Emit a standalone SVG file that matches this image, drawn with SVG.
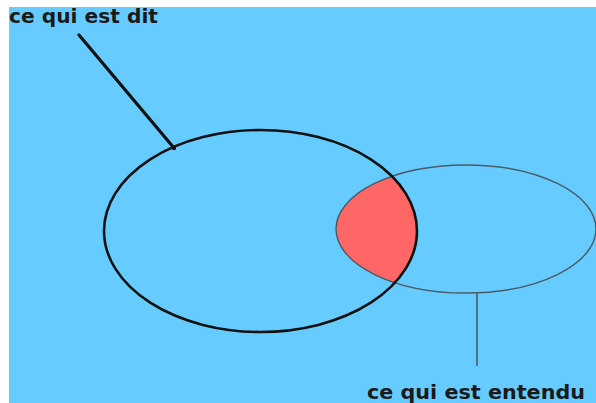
<svg xmlns="http://www.w3.org/2000/svg" width="596" height="403" viewBox="0 0 596 403">
<style>
.lbl{font-family:"DejaVu Sans","Liberation Sans",sans-serif;font-weight:bold;font-size:19px;fill:#1a1a1a}
.dit{fill:none;stroke:#111;stroke-width:2.6}
.ent{fill:none;stroke:#4a5a66;stroke-width:1.4}
</style>
<defs>
<clipPath id="c1"><ellipse cx="260.5" cy="231" rx="156.5" ry="101"/></clipPath>
</defs>
<rect x="0" y="0" width="596" height="403" fill="#fff"/>
<rect x="9" y="7" width="587" height="396" fill="#66CCFF"/>
<g id="intersection">
<ellipse cx="466" cy="229" rx="130" ry="64" fill="#FF6666" clip-path="url(#c1)"/>
</g>
<g id="entendu-ellipse">
<ellipse class="ent" cx="466" cy="229" rx="130" ry="64"/>
</g>
<g id="dit-ellipse">
<ellipse class="dit" cx="260.5" cy="231" rx="156.5" ry="101"/>
</g>
<g id="connectors">
<line x1="79" y1="35" x2="174" y2="148" stroke="#111" stroke-width="3.2" stroke-linecap="round"/>
<circle cx="174" cy="148" r="2.2" fill="#111"/>
<line x1="477" y1="293" x2="477" y2="366" stroke="#4a5a66" stroke-width="1.6"/>
</g>
<g id="label-dit">
<text class="lbl" x="9" y="23" textLength="149" lengthAdjust="spacingAndGlyphs">ce qui est dit</text>
</g>
<g id="label-entendu">
<text class="lbl" x="367" y="399" textLength="218" lengthAdjust="spacingAndGlyphs">ce qui est entendu</text>
</g>
</svg>
